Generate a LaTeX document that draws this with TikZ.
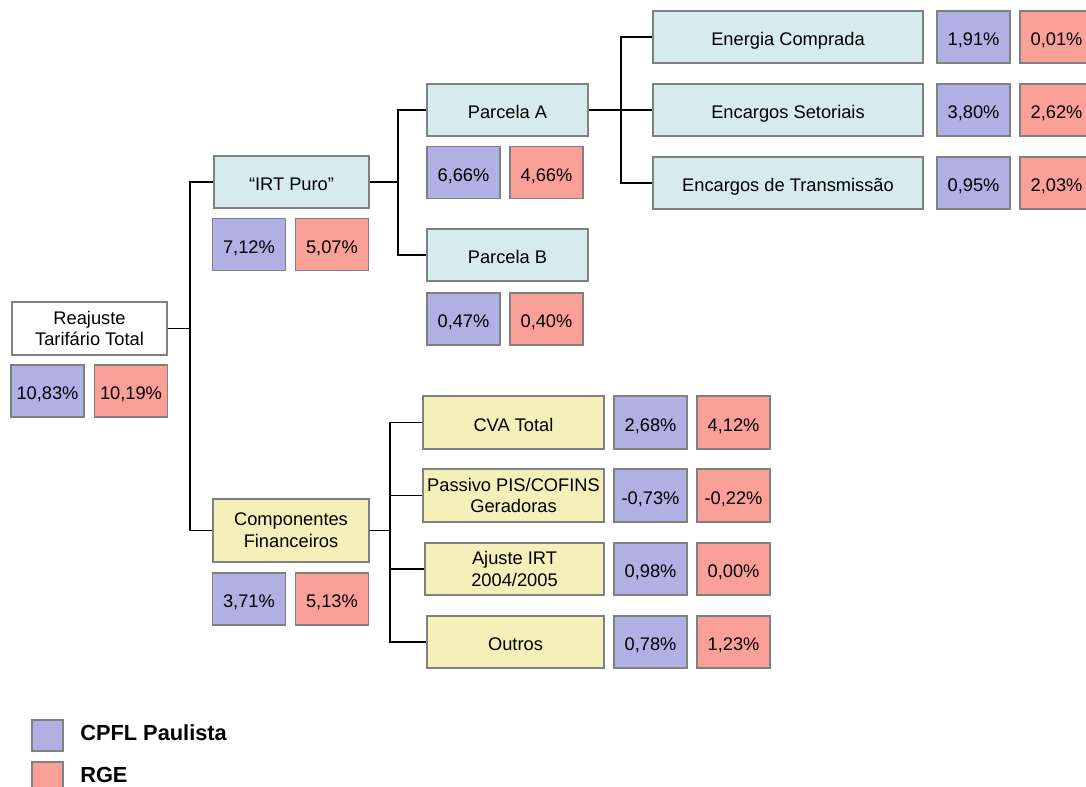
\documentclass[tikz,border=0pt]{standalone}
\usepackage{fontspec}
\setmainfont{Liberation Sans}
\usepackage{tikz}
\usetikzlibrary{calc, positioning}
\usepackage{xcolor}
\definecolor{cpfl}{RGB}{176,176,228}
\definecolor{rge}{RGB}{250,160,152}
\definecolor{irtblue}{RGB}{214,235,238}
\definecolor{finyellow}{RGB}{245,239,186}
\definecolor{edgegray}{RGB}{128,128,128}
\tikzset{
	box/.style={draw=edgegray, line width=1pt, inner sep=0pt, align=center,
		minimum height=1.3cm, font=\fontsize{13}{15.5}\selectfont},
	oneline/.style={text height=12.5pt, text depth=0pt},
	pcta/.style={box, oneline, fill=cpfl, minimum width=1.825cm},
	pctb/.style={box, oneline, fill=rge, minimum width=1.825cm},
	link/.style={line width=1.4pt, black},
}

\begin{document}
\begin{tikzpicture}[x=0.025cm, y=-0.025cm]
			\clip (0,0) rectangle (1086,787);
			% raiz
			\node [box, fill=white, minimum width=3.875cm, minimum height=1.325cm] (rtt) at (89.5,328.5) {Reajuste\\Tarifário Total};
			\node [pcta] (rtta) at (47.5,391) {10,83\%};
			\node [pctb] (rttb) at (131,391) {10,19\%};
			% IRT puro
			\node [box, oneline, fill=irtblue, minimum width=3.875cm] (irt) at (291.5,182) {“IRT Puro”};
			\node [pcta] (irta) at (249,244.5) {7,12\%};
			\node [pctb] (irtb) at (332,244.5) {5,07\%};
			\node [box, oneline, fill=irtblue, minimum width=4.025cm] (parA) at (507.5,110) {Parcela A};
			\node [pcta] (parAa) at (463.5,172.5) {6,66\%};
			\node [pctb] (parAb) at (546.5,172.5) {4,66\%};
			\node [box, oneline, fill=irtblue, minimum width=4.025cm] (parB) at (507.5,255) {Parcela B};
			\node [pcta] (parBa) at (463.5,319) {0,47\%};
			\node [pctb] (parBb) at (546.5,319) {0,40\%};
			\node [box, oneline, fill=irtblue, minimum width=6.75cm] (ener) at (788,37) {Energia Comprada};
			\node [pcta] (enera) at (973.5,37) {1,91\%};
			\node [pctb] (enerb) at (1056.5,37) {0,01\%};
			\node [box, oneline, fill=irtblue, minimum width=6.75cm] (setor) at (788,110) {Encargos Setoriais};
			\node [pcta] (setora) at (973.5,110) {3,80\%};
			\node [pctb] (setorb) at (1056.5,110) {2,62\%};
			\node [box, oneline, fill=irtblue, minimum width=6.75cm] (trans) at (788,183) {Encargos de Transmissão};
			\node [pcta] (transa) at (973.5,183) {0,95\%};
			\node [pctb] (transb) at (1056.5,183) {2,03\%};
			% componentes financeiros
			\node [box, fill=finyellow, minimum width=3.9cm, minimum height=1.575cm] (comp) at (291,530.5) {Componentes\\Financeiros};
			\node [pcta] (compa) at (249,599) {3,71\%};
			\node [pctb] (compb) at (332,599) {5,13\%};
			\node [box, oneline, fill=finyellow, minimum width=4.525cm, minimum height=1.325cm] (cva) at (513.5,422.5) {CVA Total};
			\node [pcta, minimum height=1.325cm] (cvaa) at (650.5,422.5) {2,68\%};
			\node [pctb, minimum height=1.325cm] (cvab) at (733.5,422.5) {4,12\%};
			\node [box, fill=finyellow, minimum width=4.525cm, minimum height=1.325cm] (pis) at (513.5,495.5) {Passivo PIS/COFINS\\Geradoras};
			\node [pcta, minimum height=1.325cm] (pisa) at (650.5,495.5) {-0,73\%};
			\node [pctb, minimum height=1.325cm] (pisb) at (733.5,495.5) {-0,22\%};
			\node [box, fill=finyellow, minimum width=4.475cm] (aju) at (514.5,569) {Ajuste IRT\\2004/2005};
			\node [pcta] (ajua) at (650.5,569) {0,98\%};
			\node [pctb] (ajub) at (733.5,569) {0,00\%};
			\node [box, oneline, fill=finyellow, minimum width=4.425cm] (out) at (515.5,642) {Outros};
			\node [pcta] (outa) at (650.5,642) {0,78\%};
			\node [pctb] (outb) at (733.5,642) {1,23\%};
			% ligacoes
			\coordinate (j1) at (190,328.5);
			\coordinate (j2) at (398,182);
			\coordinate (j3) at (621,110);
			\coordinate (j4) at (390,530.5);
			\draw [link] (rtt.east) -- (j1);
			\draw [link] (irt.west) -| (j1) |- (comp.west);
			\draw [link] (irt.east) -- (j2);
			\draw [link] (parA.west) -| (j2) |- (parB.west);
			\draw [link] (parA.east) -- (setor.west);
			\draw [link] (ener.west) -| (j3) |- (trans.west);
			\draw [link] (comp.east) -- (j4);
			\draw [link] (cva.west) -| (j4) |- (out.west);
			\draw [link] (j4) |- (pis.west);
			\draw [link] (j4) |- (aju.west);
			% legenda
			\node [box, fill=cpfl, minimum width=0.775cm, minimum height=0.775cm] (legA) at (47.5,735.5) {};
			\node [box, fill=rge, minimum width=0.775cm, minimum height=0.775cm] (legB) at (47.5,777.5) {};
			\node [anchor=west, inner sep=0pt, font=\fontsize{15.5}{18}\selectfont\bfseries] (legAtxt) at (80,733) {CPFL Paulista};
			\node [anchor=west, inner sep=0pt, font=\fontsize{15.5}{18}\selectfont\bfseries] (legBtxt) at (80,775) {RGE};
		\end{tikzpicture}
\end{document}
